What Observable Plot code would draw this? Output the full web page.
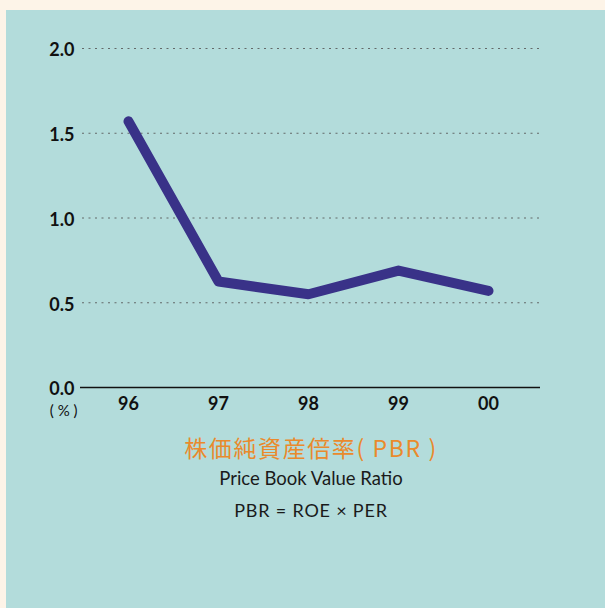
<!DOCTYPE html>
<html>
<head>
<meta charset="utf-8">
<script src="https://cdn.jsdelivr.net/npm/d3@7"></script>
<script src="https://cdn.jsdelivr.net/npm/@observablehq/plot@0.6"></script>
<style>
  html, body { margin: 0; padding: 0; background: #fdf4e8; width: 605px; height: 608px; overflow: hidden; }
  #panel { position: absolute; left: 6px; top: 10px; width: 599px; height: 598px; background: #b3dcdb; }
  #panel svg { display: block; background: transparent; }
  .cap { position: absolute; left: 76px; width: 458px; text-align: center; white-space: nowrap; }
  #t1 { top: 420px; font-family: "Noto Sans CJK JP", sans-serif; font-size: 23px; color: #ea8a2c; letter-spacing: 1.6px; }
  #t2 { top: 457px; font-family: "Lato", "Open Sans", sans-serif; font-size: 18.5px; color: #1a1a1a; }
  #t3 { top: 489px; font-family: "Lato", "Open Sans", sans-serif; font-size: 18px; color: #1a1a1a; letter-spacing: 0.8px; }
</style>
</head>
<body>
<div id="panel">
  <div id="chart"></div>
  <div class="cap" id="t1"></div>
  <div class="cap" id="t2"></div>
  <div class="cap" id="t3"></div>
</div>
<script>
const years = ["96", "97", "98", "99", "00"];
const pbr = [1.57, 0.625, 0.55, 0.69, 0.57];
const yTicks = [0, 0.5, 1.0, 1.5, 2.0];
const gridTicks = [0.5, 1.0, 1.5, 2.0];
const unitLabel = "(\u00a0%\u00a0)";
const titleJa = "株価純資産倍率( PBR )";
const subtitle = "Price Book Value Ratio";
const formula = "PBR = ROE × PER";

const data = years.map((y, i) => ({year: y, value: pbr[i]}));

const chart = Plot.plot({
  width: 599,
  height: 420,
  marginLeft: 76,
  marginRight: 65,
  marginTop: 38,
  marginBottom: 43,
  style: {background: "transparent", fontFamily: "Lato, 'Open Sans', sans-serif", color: "#111"},
  x: {type: "point", domain: years, range: [120, 483], padding: 0},
  y: {domain: [0, 2]},
  marks: [
    Plot.ruleY(gridTicks, {stroke: "#555", strokeWidth: 1, strokeDasharray: "2,4.5", strokeOpacity: 0.85}),
    Plot.ruleY([0], {stroke: "#111", strokeWidth: 1.3, insetLeft: -2}),
    Plot.axisY(yTicks, {tickSize: 0, tickPadding: 8, fontSize: 18, fontWeight: "bold", tickFormat: d => d.toFixed(1), dy: 2, label: null}),
    Plot.axisX({tickSize: 0, tickPadding: 10, fontSize: 18, fontWeight: "bold", label: null}),
    Plot.text([unitLabel], {frameAnchor: "bottom-left", dx: -5, dy: 28, fontSize: 15, fill: "#111", textAnchor: "end", letterSpacing: "1px"}),
    Plot.line(data, {x: "year", y: "value", stroke: "#393288", strokeWidth: 10, strokeLinecap: "round", strokeLinejoin: "round"})
  ]
});
document.getElementById("chart").appendChild(chart);
document.getElementById("t1").textContent = titleJa;
document.getElementById("t2").textContent = subtitle;
document.getElementById("t3").textContent = formula;
</script>
</body>
</html>
